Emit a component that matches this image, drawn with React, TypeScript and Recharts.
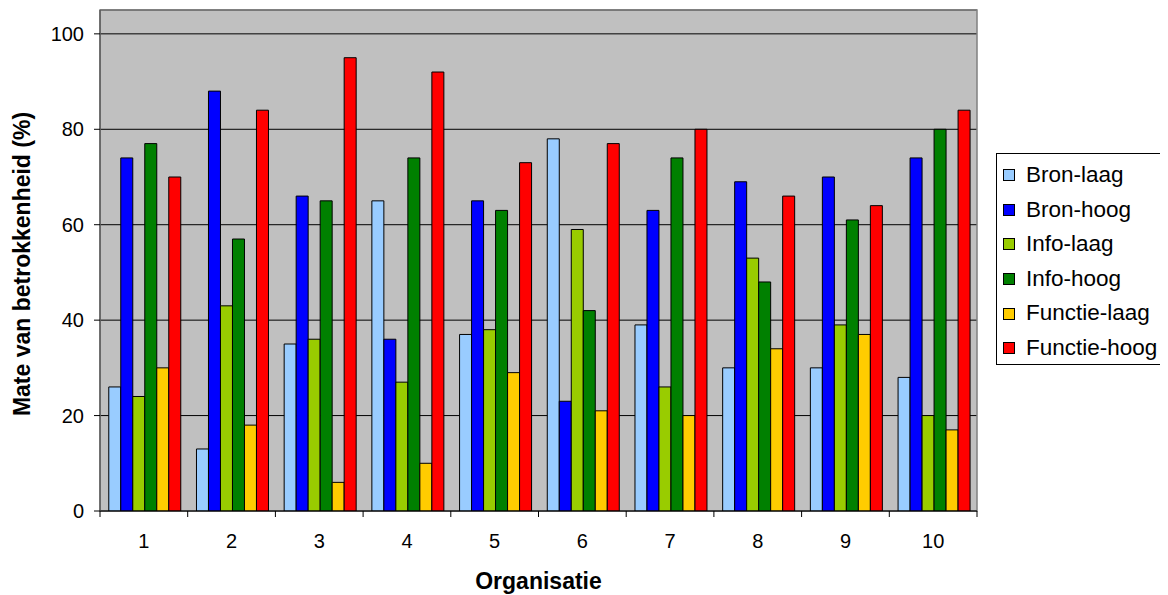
import React from "react";
import {
  BarChart,
  Bar,
  XAxis,
  YAxis,
  CartesianGrid,
  Legend,
  ReferenceArea,
  Label,
} from "recharts";

// Organisations on the x axis
const organisaties = ["1", "2", "3", "4", "5", "6", "7", "8", "9", "10"];

// Involvement per organisation (%)
const bronLaag = [26, 13, 35, 65, 37, 78, 39, 30, 30, 28];
const bronHoog = [74, 88, 66, 36, 65, 23, 63, 69, 70, 74];
const infoLaag = [24, 43, 36, 27, 38, 59, 26, 53, 39, 20];
const infoHoog = [77, 57, 65, 74, 63, 42, 74, 48, 61, 80];
const functieLaag = [30, 18, 6, 10, 29, 21, 20, 34, 37, 17];
const functieHoog = [70, 84, 95, 92, 73, 77, 80, 66, 64, 84];

const yTicks = [0, 20, 40, 60, 80, 100];

const series = [
  { key: "Bron-laag", values: bronLaag, color: "#99CCFF" },
  { key: "Bron-hoog", values: bronHoog, color: "#0000FF" },
  { key: "Info-laag", values: infoLaag, color: "#99CC00" },
  { key: "Info-hoog", values: infoHoog, color: "#008000" },
  { key: "Functie-laag", values: functieLaag, color: "#FFCC00" },
  { key: "Functie-hoog", values: functieHoog, color: "#FF0000" },
];

const data = organisaties.map((org, i) => {
  const row: Record<string, string | number> = { org };
  series.forEach((s) => {
    row[s.key] = s.values[i];
  });
  return row;
});

const FONT = "Arial, 'Liberation Sans', sans-serif";

const CHART_W = 1160;
const CHART_H = 587;
const MARGIN = { top: 2, right: 191, bottom: 0, left: 0 };
const Y_AXIS_W = 92;
const PLOT_W = CHART_W - MARGIN.left - MARGIN.right - Y_AXIS_W;
const BAND = PLOT_W / organisaties.length;

// Category label centred in the band, tick marks on the band edges
const XTick = (props: any) => {
  const { x, y, payload, index } = props;
  const axisY = y - 8;
  const left = x - BAND / 2;
  const right = x + BAND / 2;
  return (
    <g>
      <line x1={left} y1={axisY} x2={left} y2={axisY + 6} stroke="#000" />
      {index === organisaties.length - 1 && (
        <line x1={right} y1={axisY} x2={right} y2={axisY + 6} stroke="#000" />
      )}
      <text
        x={x}
        y={y}
        dy={29}
        textAnchor="middle"
        fontFamily={FONT}
        fontSize={20}
        fill="#000"
      >
        {payload.value}
      </text>
    </g>
  );
};

const LegendBox = () => (
  <div
    style={{
      border: "1px solid #000",
      background: "#fff",
      boxSizing: "border-box",
      width: 169,
      height: 212,
      padding: "4px 0 0 6px",
      fontFamily: FONT,
      fontSize: 22.5,
      color: "#000",
      lineHeight: 1,
    }}
  >
    {series.map((s) => (
      <div
        key={s.key}
        style={{ display: "flex", alignItems: "center", height: 34.6 }}
      >
        <span
          style={{
            display: "inline-block",
            boxSizing: "border-box",
            width: 12,
            height: 12,
            background: s.color,
            border: "1px solid #000",
            marginRight: 11,
            flexShrink: 0,
          }}
        />
        <span style={{ whiteSpace: "nowrap" }}>{s.key}</span>
      </div>
    ))}
  </div>
);

export default function App() {
  return (
    <BarChart
      width={CHART_W}
      height={CHART_H}
      data={data}
      margin={MARGIN}
      barCategoryGap="10%"
      barGap={0}
    >
      <CartesianGrid
        vertical={false}
        stroke="#000"
        fill="#C0C0C0"
        fillOpacity={1}
      />
      <XAxis
        dataKey="org"
        height={CHART_H - 503}
        tickLine={false}
        axisLine={{ stroke: "#000" }}
        tick={<XTick />}
        interval={0}
      >
        <Label
          content={() => (
            <text
              x={92 + PLOT_W / 2}
              y={581}
              textAnchor="middle"
              fontFamily={FONT}
              fontSize={23}
              fontWeight="bold"
              fill="#000"
            >
              Organisatie
            </text>
          )}
        />
      </XAxis>
      <YAxis
        width={Y_AXIS_W}
        domain={[0, 105]}
        ticks={yTicks}
        allowDataOverflow
        tickSize={6}
        tickMargin={10}
        tickLine={{ stroke: "#000" }}
        axisLine={{ stroke: "#404040" }}
        tick={{ fontFamily: FONT, fontSize: 20, fill: "#000" }}
      >
        <Label
          content={() => (
            <text
              x={22}
              y={256}
              transform="rotate(-90, 22, 256)"
              textAnchor="middle"
              fontFamily={FONT}
              fontSize={23}
              fontWeight="bold"
              fill="#000"
            >
              Mate van betrokkenheid (%)
            </text>
          )}
        />
      </YAxis>
      <ReferenceArea
        y1={0}
        y2={105}
        fill="none"
        stroke="#808080"
        strokeWidth={1.5}
        ifOverflow="visible"
      />
      {series.map((s) => (
        <Bar
          key={s.key}
          dataKey={s.key}
          name={s.key}
          fill={s.color}
          stroke="#000"
          strokeWidth={1}
          isAnimationActive={false}
        />
      ))}
      <Legend
        layout="vertical"
        align="center"
        verticalAlign="middle"
        content={<LegendBox />}
        wrapperStyle={{ left: 988, top: 145, width: 169, height: 212 }}
      />
    </BarChart>
  );
}
